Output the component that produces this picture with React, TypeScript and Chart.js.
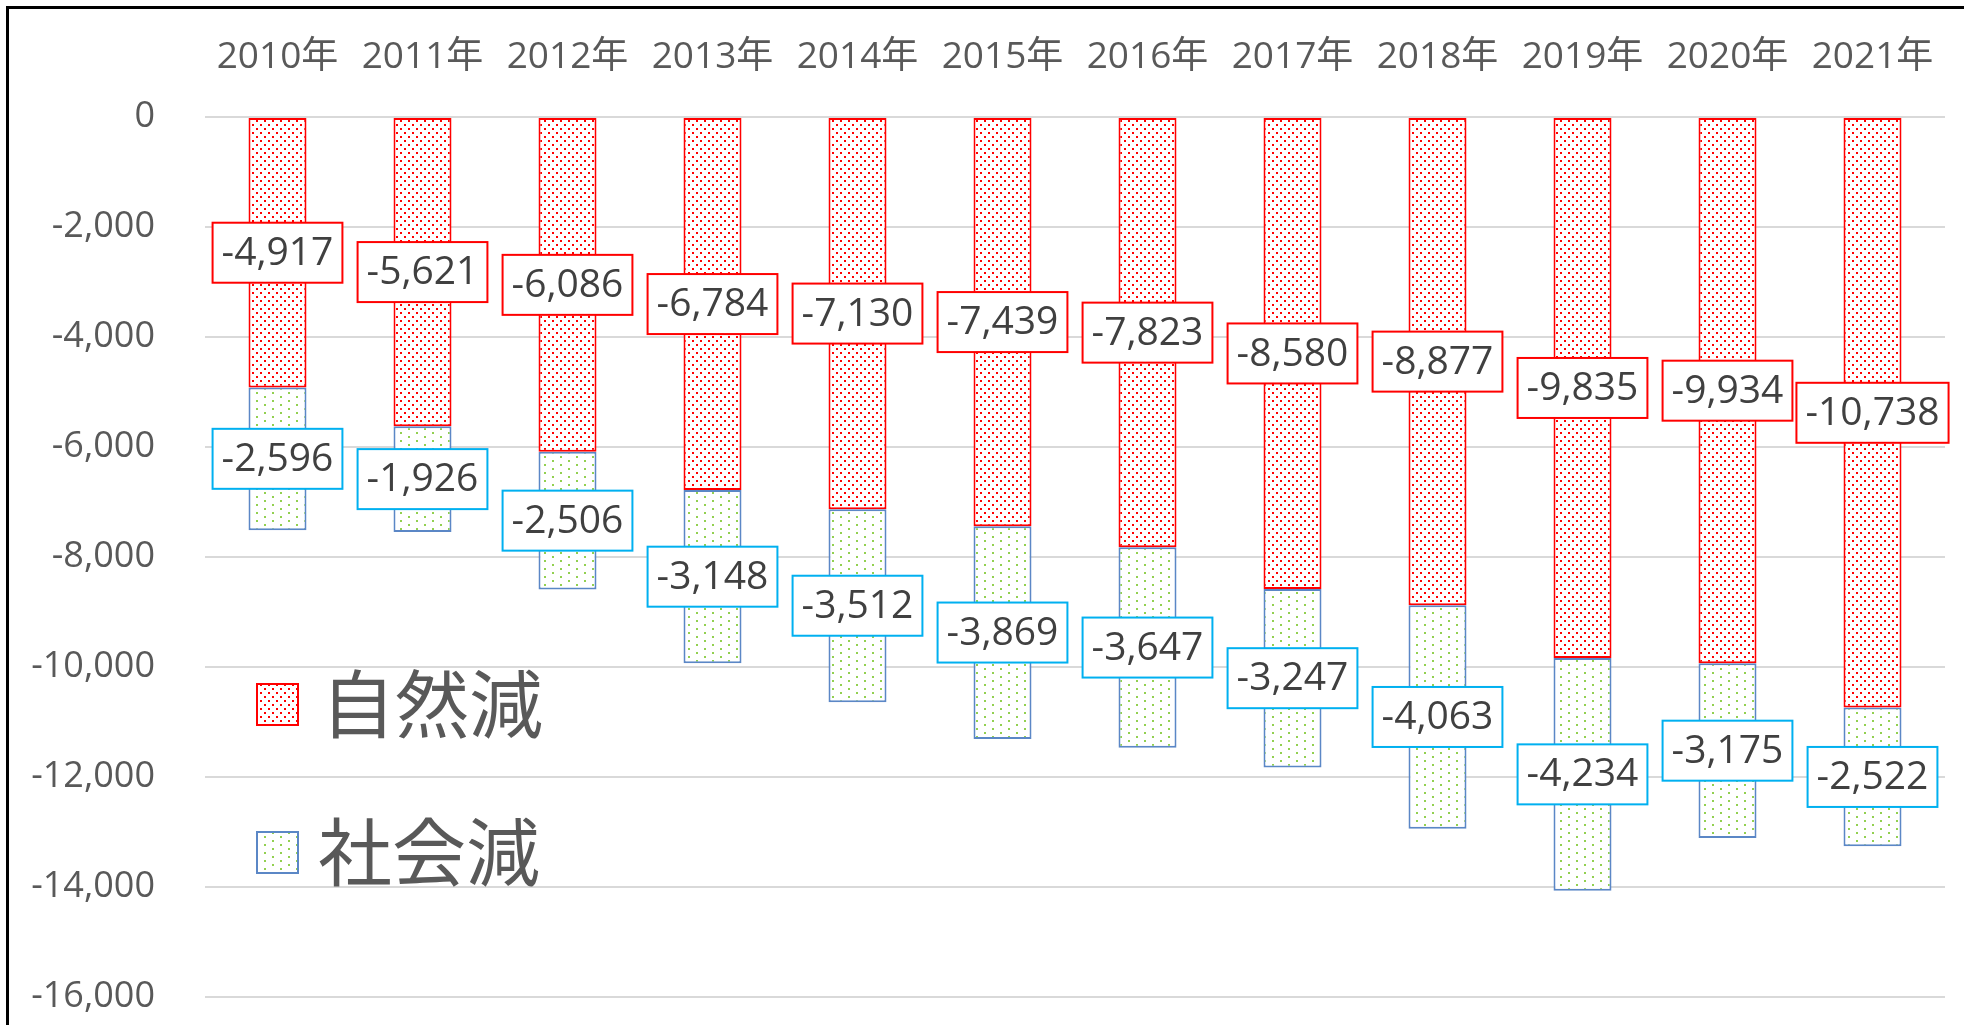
import React, { useEffect, useRef } from "react";
import { Chart, registerables } from "chart.js";

Chart.register(...registerables);

const categories = ["2010年", "2011年", "2012年", "2013年", "2014年", "2015年", "2016年", "2017年", "2018年", "2019年", "2020年", "2021年"];
const naturalDecrease = [-4917, -5621, -6086, -6784, -7130, -7439, -7823, -8580, -8877, -9835, -9934, -10738];
const socialDecrease = [-2596, -1926, -2506, -3148, -3512, -3869, -3647, -3247, -4063, -4234, -3175, -2522];
const seriesNames = ["自然減", "社会減"];
const yMin = -16000;
const yMax = 0;
const yStep = 2000;

const FONT = "'Open Sans', 'Noto Sans CJK JP', sans-serif";
const CJK = "'Noto Sans CJK JP', 'Noto Sans', sans-serif";

function makeTile(kind: "red" | "green"): HTMLCanvasElement {
  const c = document.createElement("canvas");
  if (kind === "red") {
    c.width = 8;
    c.height = 8;
    const g = c.getContext("2d")!;
    g.fillStyle = "#ffffff";
    g.fillRect(0, 0, 8, 8);
    g.fillStyle = "#ff0000";
    g.fillRect(0, 0, 2, 2);
    g.fillRect(4, 4, 2, 2);
  } else {
    c.width = 16;
    c.height = 8;
    const g = c.getContext("2d")!;
    g.fillStyle = "#ffffff";
    g.fillRect(0, 0, 16, 8);
    g.fillStyle = "#92d050";
    g.fillRect(0, 0, 2, 2);
    g.fillRect(8, 4, 2, 2);
  }
  return c;
}

const fmt = (v: number) => v.toLocaleString("en-US");

export default function App() {
  const ref = useRef<HTMLCanvasElement>(null);

  useEffect(() => {
    document.body.style.margin = "0";
    const canvas = ref.current!;
    const ctx = canvas.getContext("2d")!;
    const redPat = ctx.createPattern(makeTile("red"), "repeat")!;
    const greenPat = ctx.createPattern(makeTile("green"), "repeat")!;
    const labelBorders = ["#ff0000", "#00b0f0"];

    const labelsPlugin = {
      id: "boxLabels",
      afterDatasetsDraw(chart: any) {
        const c = chart.ctx;
        c.save();
        c.font = `39px ${FONT}`;
        c.textAlign = "center";
        c.textBaseline = "middle";
        chart.data.datasets.forEach((ds: any, i: number) => {
          const meta = chart.getDatasetMeta(i);
          meta.data.forEach((bar: any, j: number) => {
            const p = bar.getProps(["x", "y", "base"], true);
            const cy = (p.y + p.base) / 2;
            const text = fmt(ds.data[j]);
            const tw = c.measureText(text).width;
            const w = tw + 18;
            const h = 60;
            c.fillStyle = "#ffffff";
            c.fillRect(p.x - w / 2, cy - h / 2, w, h);
            c.strokeStyle = labelBorders[i];
            c.lineWidth = 2;
            c.strokeRect(p.x - w / 2, cy - h / 2, w, h);
            c.fillStyle = "#404040";
            c.fillText(text, p.x, cy + 1);
          });
        });
        c.restore();
      },
    };

    const legendPlugin = {
      id: "customLegend",
      afterDraw(chart: any) {
        const c = chart.ctx;
        c.save();
        const items = [
          { fill: redPat, border: "#ff0000", y: 704, tx: 321 },
          { fill: greenPat, border: "#5b87c6", y: 852, tx: 318 },
        ];
        items.forEach((it, i) => {
          c.fillStyle = it.fill;
          c.fillRect(257, it.y - 20, 41, 41);
          c.strokeStyle = it.border;
          c.lineWidth = 2;
          c.strokeRect(257, it.y - 20, 41, 41);
          c.fillStyle = "#595959";
          c.font = `400 74px ${CJK}`;
          c.textAlign = "left";
          c.textBaseline = "middle";
          c.fillText(seriesNames[i], it.tx, it.y);
        });
        // outer frame (left and top edges visible)
        c.strokeStyle = "#000000";
        c.lineWidth = 3;
        c.beginPath();
        c.moveTo(7.5, 1025);
        c.lineTo(7.5, 7.5);
        c.lineTo(1964, 7.5);
        c.stroke();
        c.restore();
      },
    };

    const chart = new Chart(canvas, {
      type: "bar",
      data: {
        labels: categories,
        datasets: [
          {
            label: seriesNames[0],
            data: naturalDecrease,
            backgroundColor: redPat as any,
            borderColor: "#ff0000",
            borderWidth: 2,
            borderSkipped: false,
          },
          {
            label: seriesNames[1],
            data: socialDecrease,
            backgroundColor: greenPat as any,
            borderColor: "#5b87c6",
            borderWidth: 2,
            borderSkipped: false,
          },
        ],
      },
      options: {
        responsive: false,
        animation: false,
        devicePixelRatio: 1,
        layout: { padding: { left: 0, top: 0, right: 19, bottom: 28 } },
        datasets: { bar: { barPercentage: 0.4, categoryPercentage: 1 } },
        plugins: {
          legend: { display: false },
          tooltip: { enabled: false },
        },
        scales: {
          x: {
            type: "category",
            position: "top",
            stacked: true,
            grid: { display: false, drawTicks: false },
            border: { display: false },
            ticks: { color: "#595959", font: { family: FONT, size: 37 }, padding: 37, maxRotation: 0, autoSkip: false },
            afterFit(scale: any) {
              scale.height = 117;
              scale.paddingLeft = 0;
              scale.paddingRight = 0;
            },
          },
          y: {
            stacked: true,
            min: yMin,
            max: yMax,
            grid: { color: "#d9d9d9", lineWidth: 2, drawTicks: false },
            border: { display: false },
            ticks: {
              stepSize: yStep,
              color: "#595959",
              font: { family: FONT, size: 36 },
              padding: 50,
              callback: (v: any) => fmt(Number(v)),
            },
            afterFit(scale: any) {
              scale.width = 205;
              scale.paddingTop = 0;
              scale.paddingBottom = 0;
            },
          },
        },
      },
      plugins: [labelsPlugin, legendPlugin],
    });
    return () => chart.destroy();
  }, []);

  return (
    <div style={{ width: 1964, height: 1025, background: "#ffffff" }}>
      <canvas ref={ref} width={1964} height={1025} style={{ display: "block" }} />
    </div>
  );
}
